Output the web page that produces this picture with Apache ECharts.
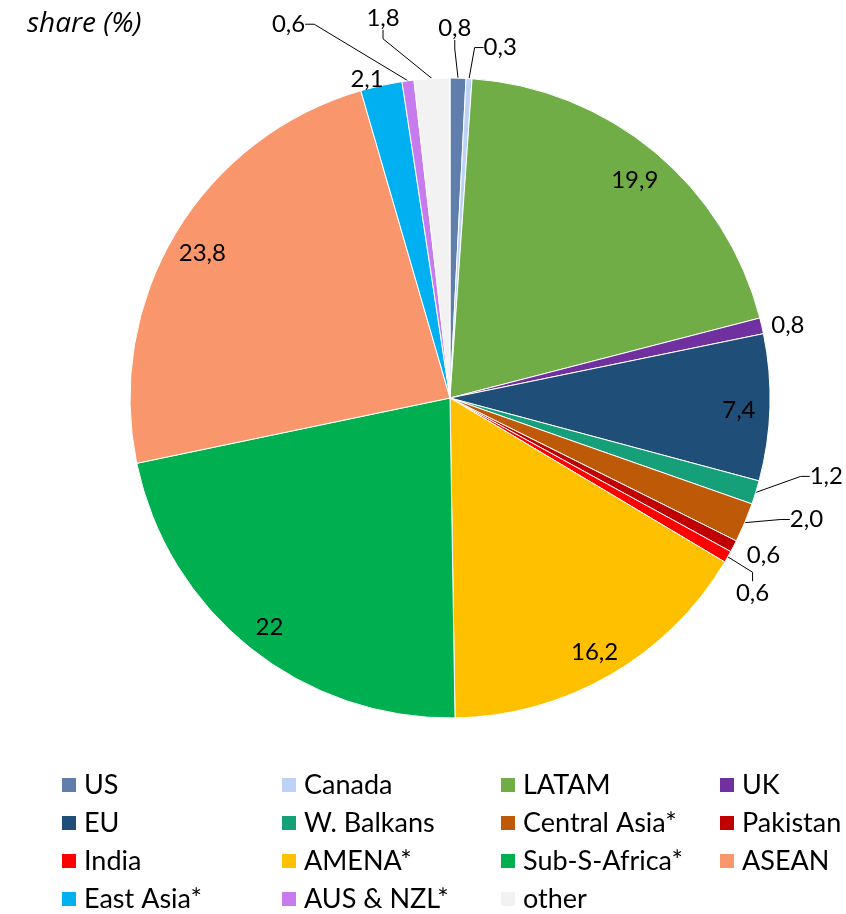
<!DOCTYPE html>
<html>
<head>
<meta charset="utf-8">
<script src="https://cdn.jsdelivr.net/npm/echarts@6/dist/echarts.min.js"></script>
<style>html,body{margin:0;padding:0;background:#fff;}#chart{width:846px;height:914px;}</style>
</head>
<body>
<div id="chart"></div>
<script>
const categories = ['US','Canada','LATAM','UK','EU','W. Balkans','Central Asia*','Pakistan','India','AMENA*','Sub-S-Africa*','ASEAN','East Asia*','AUS & NZL*','other'];
const values = [0.8,0.3,19.9,0.8,7.4,1.2,2.0,0.6,0.6,16.2,22,23.8,2.1,0.6,1.8];
const valueLabels = ['0,8','0,3','19,9','0,8','7,4','1,2','2,0','0,6','0,6','16,2','22','23,8','2,1','0,6','1,8'];
const colors = ['#5F7EAB','#BDD3F6','#70AD47','#7030A0','#1F4E79','#15A07A','#BE5A07','#C00000','#FF0000','#FFC000','#00B050','#F9966B','#00B0F0','#C77BEF','#F2F2F2'];

// label placement for small (outside) slices: [distance from centre, angle shift in degrees]
const outsidePlacement = {
  'US': [372, 0.7], 'Canada': [356, -4.7], 'UK': [346, -0.6],
  'W. Balkans': [384, 5.7], 'Central Asia*': [376, 4.4], 'Pakistan': [350, 1.2],
  'India': [359, -2.8], 'East Asia*': [331, 2.1], 'AUS & NZL*': [409, 15.7], 'other': [388, 6.7]
};
const noLine = ['UK','East Asia*','Pakistan'];

const CX = 450, CY = 398, R = 320;
const FONT = 'Lato';
const chart = echarts.init(document.getElementById('chart'), null, {renderer:'canvas'});

const total = values.reduce((a,b)=>a+b,0);
const midAngles = [];
let cum = 0;
values.forEach(v=>{ midAngles.push(90 - 360*(cum + v/2)/total); cum += v; });

const outerData = categories.map((c,i)=>{
  const small = !!outsidePlacement[c];
  return {
    name: c, value: values[i],
    itemStyle: {color: colors[i]},
    label: {show: small},
    labelLine: {show: small && noLine.indexOf(c) < 0}
  };
});
const innerData = categories.map((c,i)=>({
  name: c, value: values[i],
  label: {show: !outsidePlacement[c]}
}));

const legendCols = [60, 280, 499, 718];
const legends = legendCols.map((x,k)=>({
  orient: 'vertical',
  left: x, top: 770, height: 300,
  padding: 0,
  icon: 'rect',
  itemWidth: 16, itemHeight: 16,
  itemGap: 8,
  selectedMode: false,
  data: categories.filter((c,i)=> i % 4 === k),
  textStyle: {fontFamily: FONT, fontSize: 27, color:'#000', lineHeight: 30, padding:[0,0,0,2]}
}));

chart.setOption({
  animation: false,
  title: {
    text: 'share (%)', left: 22, top: 5,
    textStyle: {fontFamily: 'Open Sans', fontStyle: 'italic', fontWeight: 'normal', fontSize: 28, color: '#000'}
  },
  legend: legends,
  series: [
    {
      type: 'pie',
      center: [CX, CY],
      radius: [0, R],
      startAngle: 90,
      clockwise: true,
      avoidLabelOverlap: false,
      itemStyle: {borderColor: '#fff', borderWidth: 1},
      label: {
        position: 'outside',
        fontFamily: FONT, fontSize: 24, color: '#000',
        formatter: p => valueLabels[p.dataIndex]
      },
      labelLine: {length: 10, length2: 9, smooth: false, lineStyle: {color: '#000', width: 1}},
      labelLayout: function (params) {
        const i = params.dataIndex;
        const pl = outsidePlacement[categories[i]];
        if (!pl) return {};
        const a = (midAngles[i] + pl[1]) * Math.PI / 180;
        return {
          x: CX + pl[0] * Math.cos(a),
          y: CY - pl[0] * Math.sin(a) + 2,
          align: 'center', verticalAlign: 'middle'
        };
      },
      emphasis: {disabled: true},
      data: outerData
    },
    {
      type: 'pie',
      center: [CX, CY],
      radius: [256, 316],
      startAngle: 90,
      clockwise: true,
      silent: true,
      itemStyle: {color: 'transparent', borderWidth: 0},
      label: {
        position: 'inside',
        offset: [0, 4],
        fontFamily: FONT, fontSize: 24, color: '#000',
        formatter: p => valueLabels[p.dataIndex]
      },
      labelLine: {show: false},
      emphasis: {disabled: true},
      data: innerData
    }
  ]
});
</script>
</body>
</html>
